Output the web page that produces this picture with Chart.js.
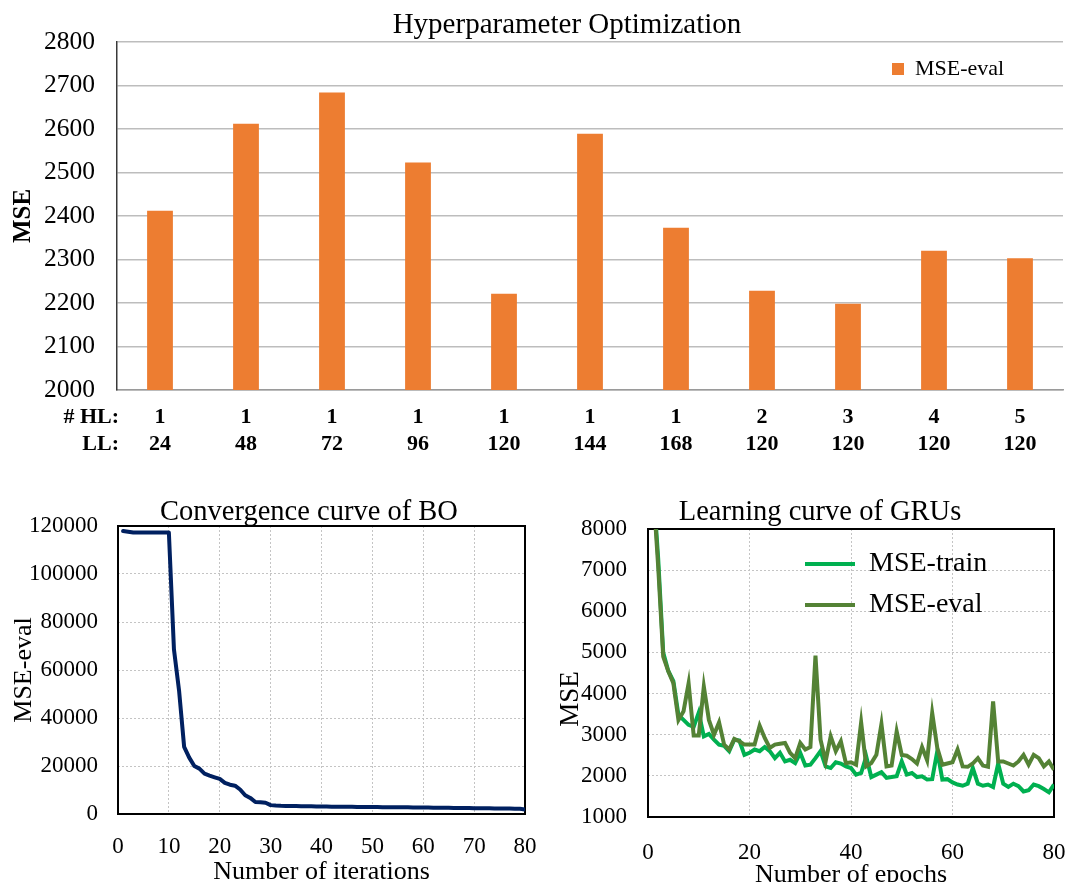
<!DOCTYPE html>
<html>
<head>
<meta charset="utf-8">
<title>GRU hyperparameter optimization</title>
<script src="https://cdn.jsdelivr.net/npm/chart.js@4.4.1/dist/chart.umd.min.js"></script>
<style>
  html, body { margin: 0; padding: 0; background: #fff; overflow: hidden; }
  .panel { position: absolute; }
  #hpoPanel { left: 0; top: 0; width: 1071px; height: 470px; }
  #boPanel { left: 0; top: 480px; width: 540px; height: 402px; }
  #gruPanel { left: 540px; top: 480px; width: 531px; height: 402px; }
</style>
</head>
<body>
<div class="panel" id="hpoPanel"><canvas id="hpoChart"></canvas></div>
<div class="panel" id="boPanel"><canvas id="boChart"></canvas></div>
<div class="panel" id="gruPanel"><canvas id="gruChart"></canvas></div>

<script>
// hidden layers / layer size of each tried configuration
const hiddenLayers = ['1', '1', '1', '1', '1', '1', '1', '2', '3', '4', '5'];
const layerSizes = ['24', '48', '72', '96', '120', '144', '168', '120', '120', '120', '120'];
const configMse = [2412, 2612, 2684, 2523, 2221, 2589, 2373, 2228, 2198, 2320, 2303];

// bayesian optimisation, best MSE-eval after each iteration
const boIterations = Array.from({ length: 80 }, (_, i) => i + 1);
const boBest = [
    117900, 117600, 117300, 117300, 117300, 117300, 117300, 117300, 117300, 117300,
    68500, 51500, 28000, 23500, 20000, 18900, 16800, 16000, 15300, 14600,
    13000, 12200, 11800, 10200, 7800, 6700, 5000, 4900, 4700, 3700,
    3500, 3400, 3350, 3300, 3300, 3250, 3250, 3200, 3150, 3100,
    3100, 3050, 3050, 3000, 3000, 3000, 2950, 2950, 2900, 2900,
    2900, 2850, 2850, 2850, 2800, 2800, 2800, 2750, 2750, 2700,
    2700, 2650, 2650, 2600, 2600, 2550, 2550, 2500, 2450, 2400,
    2400, 2350, 2350, 2300, 2300, 2250, 2250, 2200, 2200, 1900
];

// GRU learning curve per epoch
const epochs = Array.from({ length: 80 }, (_, i) => i + 1);
const mseTrain = [
    9100, 7300, 5000, 4550, 4300, 3480, 3360, 3240, 3190, 3540,
    2960, 3020, 2880, 2760, 2730, 2600, 2880, 2860, 2510, 2560,
    2640, 2600, 2700, 2600, 2430, 2560, 2350, 2390, 2310, 2560,
    2250, 2270, 2430, 2600, 2230, 2190, 2330, 2300, 2230, 2190,
    2030, 2070, 2470, 1970, 2030, 2090, 1950, 1970, 1990, 2350,
    2030, 2070, 1970, 1990, 1910, 1920, 2600, 1910, 1920, 1840,
    1790, 1760, 1810, 2190, 1810, 1760, 1790, 1730, 2300, 1810,
    1730, 1810, 1750, 1620, 1650, 1790, 1750, 1680, 1600, 1790
];
const mseEval = [
    9000, 7100, 4900, 4540, 4250, 3360, 3570, 4250, 2980, 2980,
    4170, 3360, 3000, 3300, 2760, 2640, 2900, 2840, 2760, 2760,
    2760, 3220, 2920, 2680, 2760, 2780, 2800, 2560, 2430, 2800,
    2640, 2700, 4920, 2880, 2350, 2960, 2600, 2840, 2310, 2330,
    2270, 3300, 2230, 2310, 2510, 3260, 2230, 2250, 3080, 2510,
    2490, 2410, 2300, 2700, 2380, 3530, 2680, 2270, 2300, 2330,
    2640, 2230, 2220, 2300, 2430, 2250, 2220, 3810, 2350, 2350,
    2300, 2250, 2350, 2510, 2270, 2510, 2430, 2230, 2350, 2150
];

Chart.defaults.font.family = "'Liberation Serif', 'Times New Roman', serif";
Chart.defaults.color = '#000';

// free text (chart titles, row headers) drawn at fixed canvas positions
function captions(items) {
    return {
        id: 'captions',
        afterDraw(chart) {
            const ctx = chart.ctx;
            items.forEach(it => {
                ctx.save();
                ctx.font = it.font;
                ctx.fillStyle = '#000';
                ctx.textAlign = it.align || 'center';
                ctx.textBaseline = it.baseline || 'alphabetic';
                ctx.translate(it.x, it.y);
                if (it.rotate) ctx.rotate(it.rotate);
                ctx.fillText(it.text, 0, 0);
                ctx.restore();
            });
        }
    };
}

// moves a 'chartArea' legend to a given corner
function legendSpot(x, y) {
    return {
        id: 'legendSpot',
        afterLayout(chart) {
            const lg = chart.legend;
            if (!lg) return;
            lg.left = x;
            lg.top = y;
            lg.right = x + lg.width;
            lg.bottom = y + lg.height;
        }
    };
}

// black box around the plot area
function frame(color, width) {
    return {
        id: 'frame',
        beforeDatasetsDraw(chart) {
            const a = chart.chartArea;
            const ctx = chart.ctx;
            ctx.save();
            ctx.strokeStyle = color;
            ctx.lineWidth = width;
            ctx.strokeRect(a.left, a.top, a.right - a.left, a.bottom - a.top);
            ctx.restore();
        }
    };
}

const plain = v => String(v);

// x grid for the small panels: invisible tick marks push the labels down
function dottedGrid(gap) {
    return {
        color: '#c4c4c4',
        lineWidth: 1,
        drawTicks: gap > 0,
        tickLength: gap,
        tickColor: 'rgba(0,0,0,0)'
    };
}

// top: MSE of each configuration
new Chart(document.getElementById('hpoChart'), {
    type: 'bar',
    data: {
        labels: hiddenLayers.map((hl, i) => [hl, layerSizes[i]]),
        datasets: [{
            label: 'MSE-eval',
            data: configMse,
            backgroundColor: '#ED7D31',
            borderWidth: 0,
            barPercentage: 0.3,
            categoryPercentage: 1
        }]
    },
    options: {
        responsive: true,
        maintainAspectRatio: false,
        animation: false,
        layout: { padding: { left: 0, top: 42, right: 8, bottom: 0 } },
        scales: {
            x: {
                grid: { display: false, drawTicks: false },
                border: { display: true, color: '#9a9a9a', width: 1.5 },
                ticks: {
                    autoSkip: false, maxRotation: 0, padding: 13.5,
                    font: { size: 22, weight: 'bold', lineHeight: 27 / 22 }
                },
                afterFit: s => { s.height = 80; }
            },
            y: {
                min: 2000,
                max: 2800,
                grid: { color: '#bdbdbd', lineWidth: 1.5, drawTicks: false },
                border: { display: true, color: '#3a3a3a', width: 1.5 },
                ticks: { stepSize: 100, padding: 22, font: { size: 25.5 }, callback: plain },
                title: {
                    display: true, text: 'MSE',
                    font: { size: 25, weight: 'bold' },
                    padding: { top: 9, bottom: 0 }
                },
                afterFit: s => { s.width = 117; }
            }
        },
        plugins: {
            legend: {
                position: 'chartArea',
                align: 'start',
                labels: { boxWidth: 12, boxHeight: 12, padding: 10, font: { size: 22 } }
            },
            tooltip: { enabled: false }
        }
    },
    plugins: [
        legendSpot(882, 48),
        captions([
            { text: 'Hyperparameter Optimization', x: 567, y: 33, font: "29px 'Liberation Serif'" },
            { text: '# HL:', x: 119, y: 417, align: 'right', baseline: 'middle', font: "bold 22px 'Liberation Serif'" },
            { text: 'LL:', x: 119, y: 444, align: 'right', baseline: 'middle', font: "bold 22px 'Liberation Serif'" }
        ])
    ]
});

// bottom left: convergence of the optimiser
new Chart(document.getElementById('boChart'), {
    type: 'line',
    data: {
        datasets: [{
            label: 'MSE-eval',
            data: boIterations.map((it, i) => ({ x: it, y: boBest[i] })),
            borderColor: '#002060',
            backgroundColor: '#002060',
            borderWidth: 4,
            pointRadius: 0,
            borderJoinStyle: 'round',
            borderCapStyle: 'round'
        }]
    },
    options: {
        responsive: true,
        maintainAspectRatio: false,
        animation: false,
        layout: { padding: { left: 0, top: 46, right: 15, bottom: 0 } },
        scales: {
            x: {
                type: 'linear',
                min: 0,
                max: 80,
                grid: dottedGrid(19),
                border: { display: false, dash: [2, 2] },
                ticks: { stepSize: 10, padding: 0, font: { size: 23 }, callback: plain },
                title: {
                    display: true, text: 'Number of iterations',
                    font: { size: 26 }, padding: { top: 0, bottom: -6 }
                },
                afterFit: s => { s.height = 68; }
            },
            y: {
                min: 0,
                max: 120000,
                grid: dottedGrid(0),
                border: { display: false, dash: [2, 2] },
                ticks: { stepSize: 20000, padding: 20, font: { size: 23 }, callback: plain },
                title: {
                    display: true, text: 'MSE-eval',
                    font: { size: 26 }, padding: { top: 9, bottom: 0 }
                },
                afterFit: s => { s.width = 118; }
            }
        },
        plugins: {
            legend: { display: false },
            tooltip: { enabled: false }
        }
    },
    plugins: [
        frame('#000', 2),
        captions([
            { text: 'Convergence curve of BO', x: 309, y: 40, font: "28.5px 'Liberation Serif'" }
        ])
    ]
});

// bottom right: learning curve of the selected GRU
new Chart(document.getElementById('gruChart'), {
    type: 'line',
    data: {
        datasets: [{
            label: 'MSE-train',
            data: epochs.map((e, i) => ({ x: e, y: mseTrain[i] })),
            borderColor: '#00B050',
            backgroundColor: '#00B050',
            borderWidth: 4,
            pointRadius: 0,
            order: 1
        }, {
            label: 'MSE-eval',
            data: epochs.map((e, i) => ({ x: e, y: mseEval[i] })),
            borderColor: '#548235',
            backgroundColor: '#548235',
            borderWidth: 4,
            pointRadius: 0,
            order: 0
        }]
    },
    options: {
        responsive: true,
        maintainAspectRatio: false,
        animation: false,
        layout: { padding: { left: 0, top: 49, right: 17, bottom: 0 } },
        scales: {
            x: {
                type: 'linear',
                min: 0,
                max: 80,
                grid: dottedGrid(22),
                border: { display: false, dash: [2, 2] },
                ticks: { stepSize: 20, padding: 0, font: { size: 23 }, callback: plain },
                title: {
                    display: true, text: 'Number of epochs',
                    font: { size: 26 }, padding: { top: 0, bottom: -9 }
                },
                afterFit: s => { s.height = 65; }
            },
            y: {
                min: 1000,
                max: 8000,
                grid: dottedGrid(0),
                border: { display: false, dash: [2, 2] },
                ticks: { stepSize: 1000, padding: 21, font: { size: 23 }, callback: plain },
                afterFit: s => { s.width = 108; }
            }
        },
        plugins: {
            legend: {
                position: 'chartArea',
                align: 'start',
                labels: {
                    usePointStyle: true,
                    pointStyle: 'line',
                    pointStyleWidth: 50,
                    padding: 13,
                    font: { size: 28 },
                    sort: (a, b) => a.datasetIndex - b.datasetIndex
                }
            },
            tooltip: { enabled: false }
        }
    },
    plugins: [
        frame('#000', 2),
        legendSpot(252, 57),
        captions([
            { text: 'Learning curve of GRUs', x: 280, y: 40, font: "28.5px 'Liberation Serif'" },
            { text: 'MSE', x: 31, y: 219, rotate: -Math.PI / 2, baseline: 'middle', font: "27px 'Liberation Serif'" }
        ])
    ]
});
</script>
</body>
</html>
